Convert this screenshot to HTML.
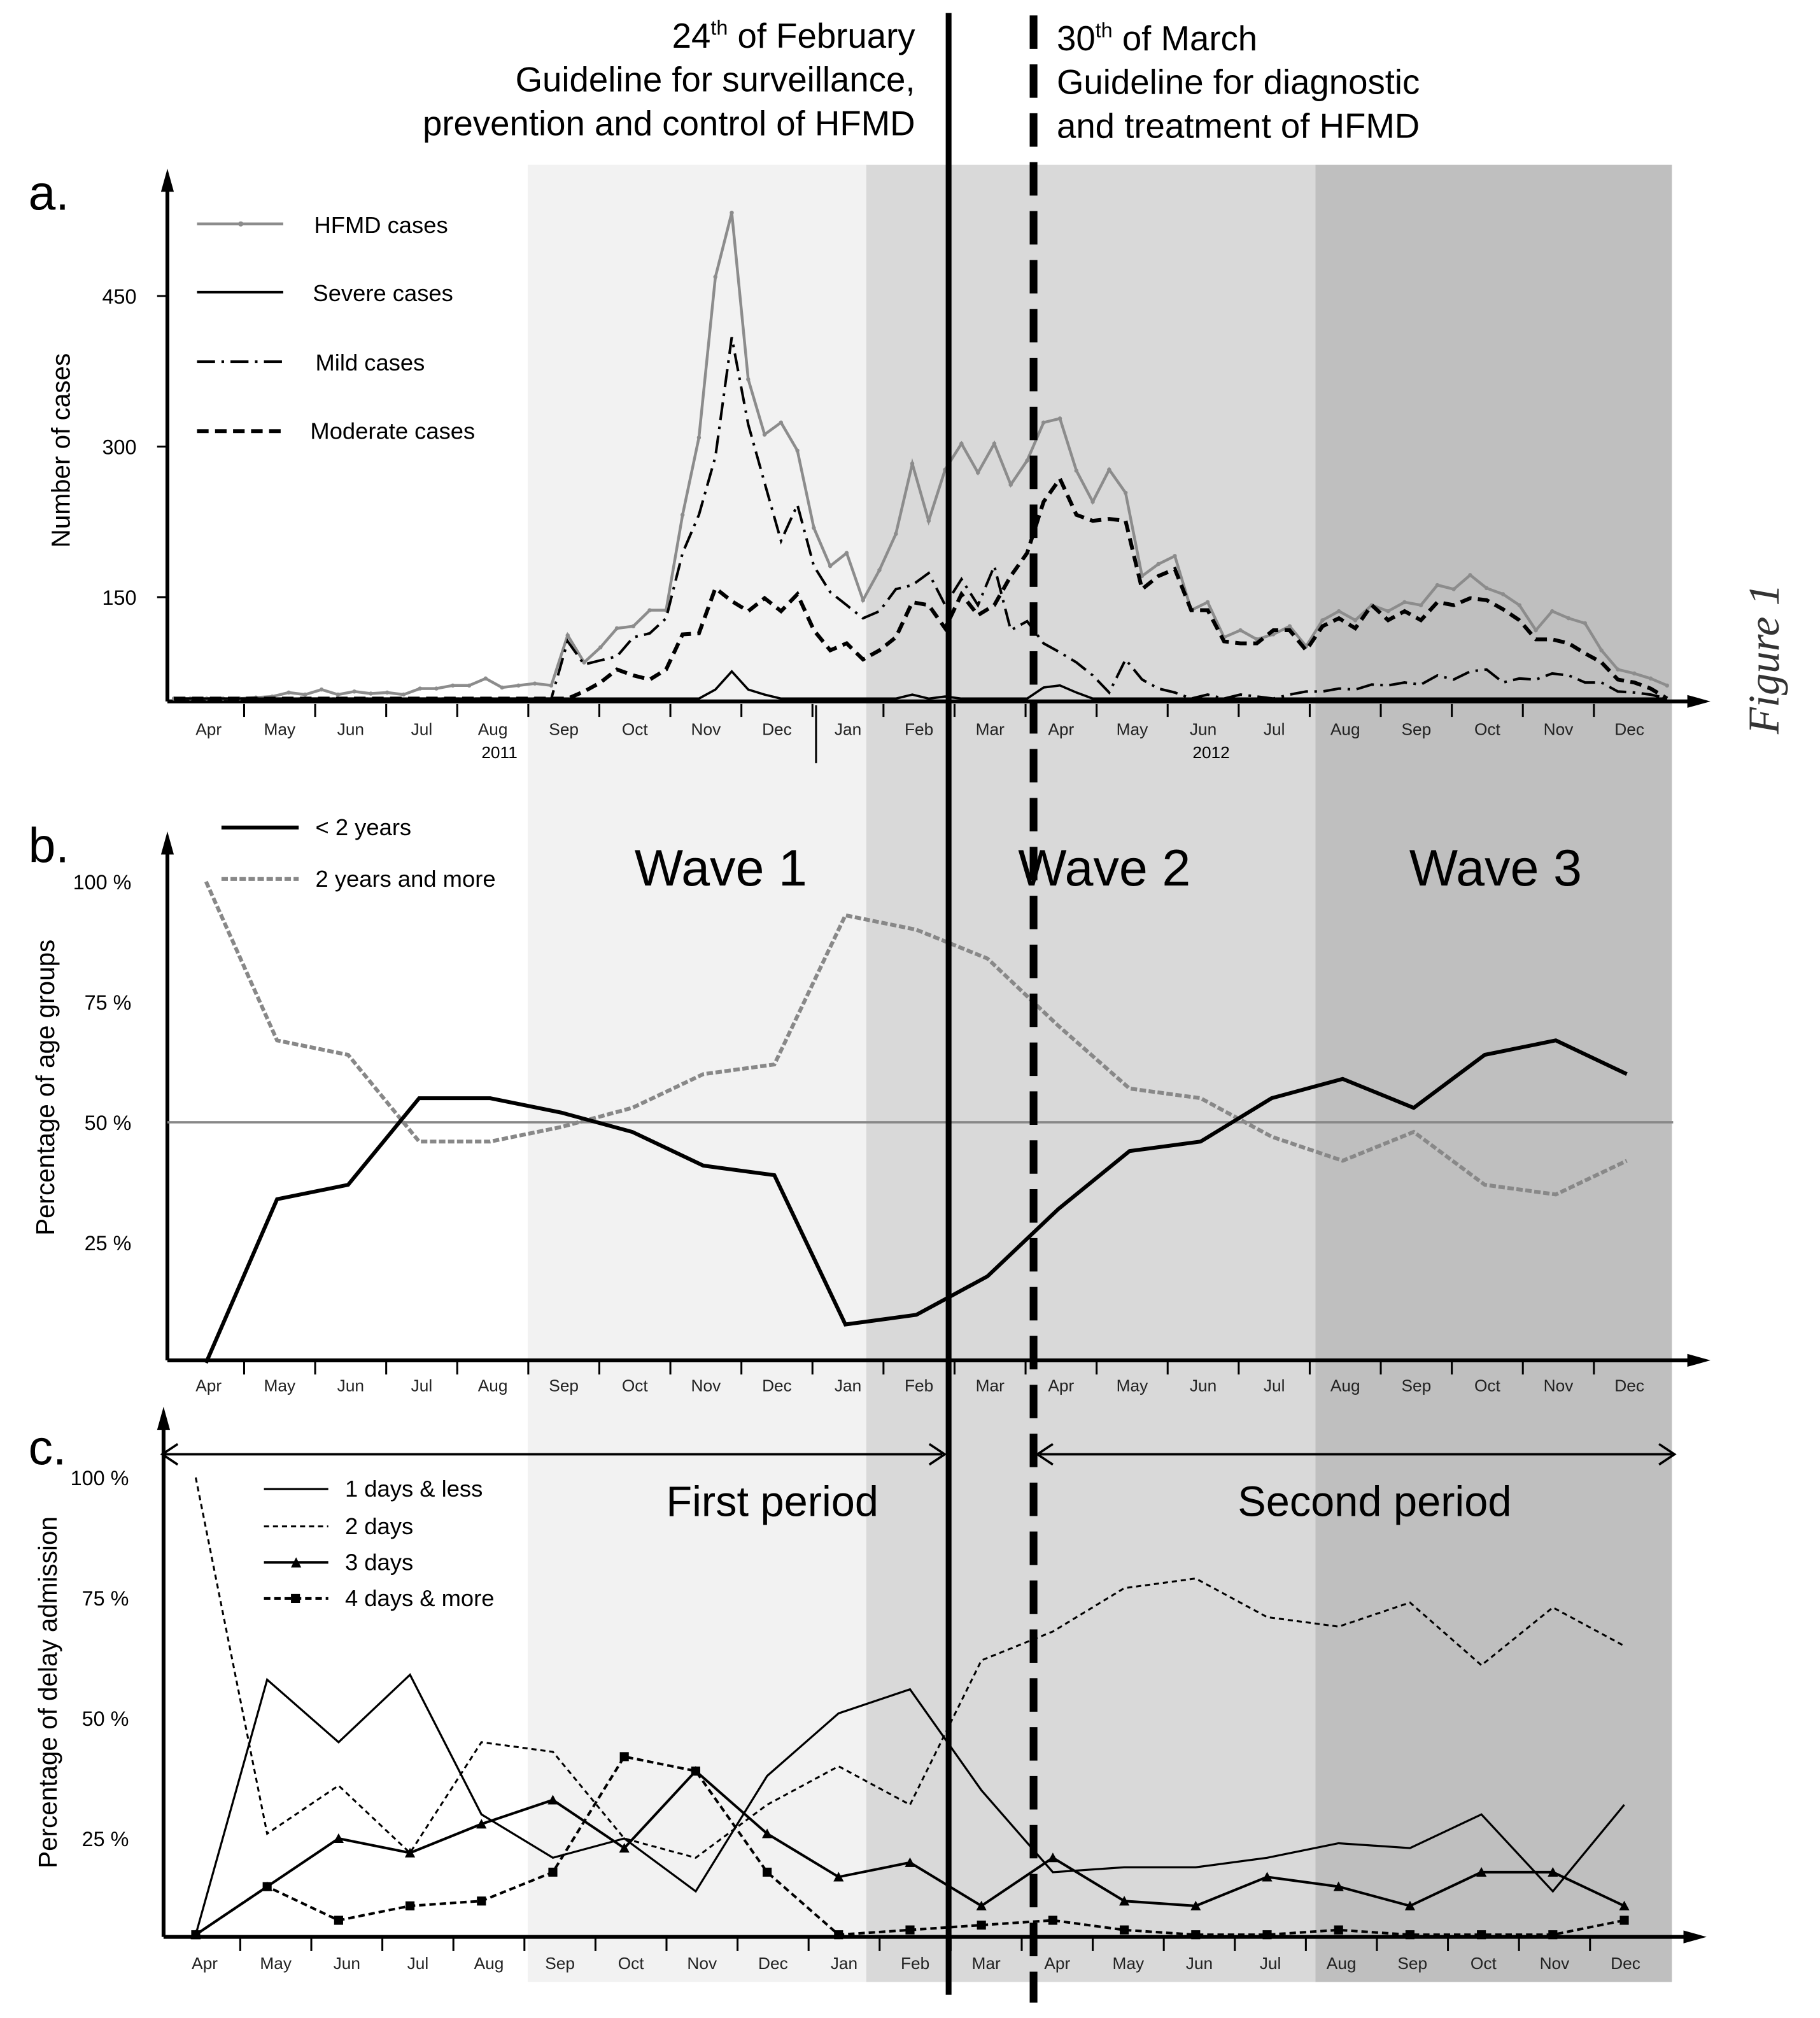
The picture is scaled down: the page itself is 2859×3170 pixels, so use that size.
<!DOCTYPE html>
<html><head><meta charset="utf-8">
<style>
html,body{margin:0;padding:0;background:#fff;}
svg{display:block;font-family:"Liberation Sans",sans-serif;}
</style></head>
<body>
<svg id="fig" width="2859" height="3170" viewBox="0 0 1414 1568" xmlns="http://www.w3.org/2000/svg">
<rect x="0" y="0" width="1414" height="1568" fill="#fff"/>
<g>
<rect x="410" y="128" width="263" height="1412" fill="#f2f2f2"/>
<rect x="673" y="128" width="349" height="1412" fill="#d9d9d9"/>
<rect x="1022" y="128" width="277" height="1412" fill="#bfbfbf"/>
</g>
<g id="marks"></g>
<g font-size="27" fill="#000">
<text x="711" y="37" text-anchor="end">24<tspan font-size="16" dy="-10">th</tspan><tspan dy="10"> of February</tspan></text>
<text x="711" y="71" text-anchor="end">Guideline  for surveillance,</text>
<text x="711" y="105" text-anchor="end">prevention and control of HFMD</text>
<text x="821" y="39">30<tspan font-size="16" dy="-10">th</tspan><tspan dy="10"> of March</tspan></text>
<text x="821" y="73">Guideline  for diagnostic</text>
<text x="821" y="107">and treatment of HFMD</text>
</g>
<line x1="737" y1="10" x2="737" y2="1550" stroke="#000" stroke-width="4.5"/>
<line x1="803" y1="12" x2="803" y2="1556" stroke="#000" stroke-width="6" stroke-dasharray="26,12"/>
<text transform="translate(1382,512) rotate(-90)" text-anchor="middle" font-family="Liberation Serif,serif" font-style="italic" font-size="34" fill="#333">Figure 1</text>
</svg>
<script>
// ---------- Panel a data (weekly) ----------
const hfmd=[49,49,49,49,49,50,51,55,53,58,53,56,54,55,53,59,59,62,62,69,60,62,64,62,112,85,100,119,121,137,137,232,309,469,533,367,312,324,296,219,181,194,147,177,213,283,226,277,303,274,303,262,286,324,328,276,245,277,254,171,183,191,137,145,110,117,108,113,121,101,127,136,127,142,136,145,142,162,158,172,159,153,142,117,136,129,124,97,78,74,69,62];
const moderate=[49,49,49,49,49,49,49,49,49,49,49,49,49,49,49,49,49,49,49,49,49,49,49,49,49,56,65,78,72,68,78,113,114,159,146,136,149,136,153,117,97,104,88,97,110,145,142,119,153,132,142,171,194,245,268,232,226,228,226,158,171,178,137,137,106,104,104,117,117,97,121,129,119,142,127,136,127,145,142,149,147,138,127,108,108,104,94,85,68,65,59,49];
const mild=[49,49,49,49,49,49,49,49,49,49,49,49,49,49,49,49,49,49,49,49,49,49,49,49,106,83,87,91,110,114,129,194,232,290,409,322,264,206,242,181,155,142,129,136,158,162,174,142,168,142,181,117,126,104,95,85,72,55,88,68,59,55,49,53,49,53,51,49,53,56,56,59,58,63,62,65,63,72,68,76,78,65,69,68,74,72,65,65,56,55,53,49];
const severe=[49,49,49,49,49,49,49,49,49,49,49,49,49,49,49,49,49,49,49,49,49,49,49,49,49,49,49,49,49,49,49,49,49,58,76,58,53,49,49,49,49,49,49,49,49,53,49,51,49,49,49,49,49,60,62,55,49,49,49,49,49,49,49,49,49,49,49,49,49,49,49,49,49,49,49,49,49,49,49,49,49,49,49,49,49,49,49,49,49,49,49,49];
const yTicksA=[150,300,450];
const months=["Apr","May","Jun","Jul","Aug","Sep","Oct","Nov","Dec","Jan","Feb","Mar","Apr","May","Jun","Jul","Aug","Sep","Oct","Nov","Dec"];
// ---------- Panel b data (monthly %) ----------
const under2=[0,34,37,55,55,52,48,41,39,8,10,18,32,44,46,55,59,53,64,67,60];
const over2=[100,67,64,46,46,49,53,60,62,93,90,84,70,57,55,47,42,48,37,35,42];
const pctTicks=[25,50,75,100];
// ---------- Panel c data (monthly %) ----------
const day1=[5,58,45,59,30,21,25,14,38,51,56,35,18,19,19,21,24,23,30,14,32];
const day2=[100,26,36,22,45,43,25,21,32,40,32,62,68,77,79,71,69,74,61,73,65];
const day3=[5,15,25,22,28,33,23,39,26,17,20,11,21,12,11,17,15,11,18,18,11];
const day4=[5,15,8,11,12,18,42,39,18,5,6,7,8,6,5,5,6,5,5,5,8];

const NS="http://www.w3.org/2000/svg";
const root=document.getElementById('marks');
function mk(tag,attrs,parent){const e=document.createElementNS(NS,tag);for(const k in attrs)e.setAttribute(k,attrs[k]);(parent||root).appendChild(e);return e;}
function txt(s,attrs,parent){const e=mk('text',attrs,parent);e.textContent=s;return e;}
function pathOf(arr,xf,yf){return arr.map((v,i)=>(i?'L':'M')+xf(i).toFixed(1)+','+yf(v).toFixed(1)).join(' ');}

const xA=i=>135+i*12.75, yA=v=>581-0.78*v;
const xB=i=>160+i*55.2, yB=p=>1059-3.74*p;
const xC=i=>152+i*55.5, yC=p=>1522-3.74*p;
const monthX=(base,i)=>base+i*55.2;

function axes(g,x0,yTop,yBase,xEnd){
  mk('line',{x1:x0,y1:yBase,x2:x0,y2:yTop+10,stroke:'#000','stroke-width':3},g);
  mk('polygon',{points:`${x0-5},${yTop+14} ${x0+5},${yTop+14} ${x0},${yTop-4}`,fill:'#000'},g);
  mk('line',{x1:x0,y1:yBase,x2:xEnd-12,y2:yBase,stroke:'#000','stroke-width':3},g);
  mk('polygon',{points:`${xEnd-14},${yBase-5} ${xEnd-14},${yBase+5} ${xEnd+4},${yBase}`,fill:'#000'},g);
}
function monthLabels(g,base,y,tickY){
  months.forEach((m,i)=>{
    const t=txt(m,{x:monthX(base,i),y:y,'text-anchor':'middle','font-size':13,fill:'#222'},g);
    
    
    if(i>0) mk('line',{x1:monthX(base,i)-27.6,y1:tickY,x2:monthX(base,i)-27.6,y2:tickY+10,stroke:'#000','stroke-width':1.5},g);
  });
}

// ===== Panel a =====
const ga=mk('g',{});


axes(ga,130,135,545,1325);
monthLabels(ga,162,571,547);
txt('2011',{x:388,y:589,'text-anchor':'middle','font-size':13},ga);
txt('2012',{x:941,y:589,'text-anchor':'middle','font-size':13},ga);
mk('line',{x1:634,y1:548,x2:634,y2:593,stroke:'#000','stroke-width':1.5},ga);
yTicksA.forEach(v=>{
  mk('line',{x1:122,y1:yA(v),x2:130,y2:yA(v),stroke:'#000','stroke-width':1.5},ga);
  txt(String(v),{x:106,y:yA(v)+6,'text-anchor':'end','font-size':16},ga);
});
const ta=txt('Number of cases',{transform:'translate(54,350) rotate(-90)','text-anchor':'middle','font-size':20},ga);


txt('a.',{x:22,y:163,'font-size':38},ga);
let s;
s=mk('path',{d:pathOf(hfmd,xA,yA),fill:'none',stroke:'#8c8c8c','stroke-width':2.2},ga);


hfmd.forEach((v,i)=>{const c=mk('circle',{cx:xA(i),cy:yA(v),r:1.6,fill:'#8c8c8c'},ga);

});
s=mk('path',{d:pathOf(mild,xA,yA),fill:'none',stroke:'#000','stroke-width':2,'stroke-dasharray':'14,5,2,5'},ga);


s=mk('path',{d:pathOf(moderate,xA,yA),fill:'none',stroke:'#000','stroke-width':3,'stroke-dasharray':'9,5'},ga);


s=mk('path',{d:pathOf(severe,xA,yA),fill:'none',stroke:'#000','stroke-width':1.8},ga);


const la=mk('g',{},ga);


mk('line',{x1:153,y1:174,x2:220,y2:174,stroke:'#8c8c8c','stroke-width':2.2},la);
mk('circle',{cx:187,cy:174,r:2,fill:'#8c8c8c'},la);
txt('HFMD cases',{x:244,y:181,'font-size':18},la);
mk('line',{x1:153,y1:227,x2:220,y2:227,stroke:'#000','stroke-width':2},la);
txt('Severe cases',{x:243,y:234,'font-size':18},la);
mk('line',{x1:153,y1:281,x2:220,y2:281,stroke:'#000','stroke-width':2,'stroke-dasharray':'14,5,2,5'},la);
txt('Mild cases',{x:245,y:288,'font-size':18},la);
mk('line',{x1:153,y1:335,x2:220,y2:335,stroke:'#000','stroke-width':3,'stroke-dasharray':'9,5'},la);
txt('Moderate cases',{x:241,y:341,'font-size':18},la);

// ===== Panel b =====
const gb=mk('g',{});


axes(gb,130,650,1057,1325);
monthLabels(gb,162,1081,1058);
mk('line',{x1:130,y1:yB(50),x2:1300,y2:yB(50),stroke:'#888','stroke-width':1.8},gb);
pctTicks.forEach(p=>{txt(p+' %',{x:102,y:yB(p)+6,'text-anchor':'end','font-size':16},gb);});
const tb=txt('Percentage of age groups',{transform:'translate(42,845) rotate(-90)','text-anchor':'middle','font-size':20},gb);


txt('b.',{x:22,y:670,'font-size':38},gb);
['Wave 1','Wave 2','Wave 3'].forEach((w,i)=>{const t=txt(w,{x:[560,858,1162][i],y:688,'text-anchor':'middle','font-size':40},gb);

});
s=mk('path',{d:pathOf(over2,xB,yB),fill:'none',stroke:'#888','stroke-width':3,'stroke-dasharray':'5,2'},gb);


s=mk('path',{d:pathOf(under2,xB,yB),fill:'none',stroke:'#000','stroke-width':3},gb);


mk('line',{x1:172,y1:643,x2:232,y2:643,stroke:'#000','stroke-width':3},gb);
txt('< 2 years',{x:245,y:649,'font-size':18},gb);
mk('line',{x1:172,y1:683,x2:232,y2:683,stroke:'#888','stroke-width':3,'stroke-dasharray':'5,2'},gb);
txt('2 years and more',{x:245,y:689,'font-size':18},gb);

// ===== Panel c =====
const gc=mk('g',{});


axes(gc,127,1097,1505,1322);
monthLabels(gc,159,1530,1506);
pctTicks.forEach(p=>{txt(p+' %',{x:100,y:yC(p)+6,'text-anchor':'end','font-size':16},gc);});
const tc=txt('Percentage of delay admission',{transform:'translate(44,1315) rotate(-90)','text-anchor':'middle','font-size':20},gc);


txt('c.',{x:22,y:1138,'font-size':38},gc);
function dArrow(x1,x2,y){
  mk('line',{x1:x1+4,y1:y,x2:x2-4,y2:y,stroke:'#000','stroke-width':1.8},gc);
  mk('polyline',{points:`${x1+14},${y-8} ${x1+2},${y} ${x1+14},${y+8}`,fill:'none',stroke:'#000','stroke-width':1.8},gc);
  mk('polyline',{points:`${x2-14},${y-8} ${x2-2},${y} ${x2-14},${y+8}`,fill:'none',stroke:'#000','stroke-width':1.8},gc);
}
dArrow(124,736,1130); dArrow(804,1303,1130);
txt('First period',{x:600,y:1178,'text-anchor':'middle','font-size':33},gc);
txt('Second period',{x:1068,y:1178,'text-anchor':'middle','font-size':33},gc);
s=mk('path',{d:pathOf(day1,xC,yC),fill:'none',stroke:'#000','stroke-width':1.6},gc);


s=mk('path',{d:pathOf(day2,xC,yC),fill:'none',stroke:'#000','stroke-width':1.5,'stroke-dasharray':'4,3'},gc);


s=mk('path',{d:pathOf(day3,xC,yC),fill:'none',stroke:'#000','stroke-width':2},gc);


day3.forEach((v,i)=>{const x=xC(i),y=yC(v);const t=mk('polygon',{points:`${x-4},${y+3.5} ${x+4},${y+3.5} ${x},${y-4}`,fill:'#000'},gc);

});
s=mk('path',{d:pathOf(day4,xC,yC),fill:'none',stroke:'#000','stroke-width':2,'stroke-dasharray':'5,3'},gc);


day4.forEach((v,i)=>{const r=mk('rect',{x:xC(i)-3.5,y:yC(v)-3.5,width:7,height:7,fill:'#000'},gc);

});
mk('line',{x1:205,y1:1157,x2:255,y2:1157,stroke:'#000','stroke-width':1.6},gc);
txt('1 days & less',{x:268,y:1163,'font-size':18},gc);
mk('line',{x1:205,y1:1186,x2:255,y2:1186,stroke:'#000','stroke-width':1.5,'stroke-dasharray':'4,3'},gc);
txt('2 days',{x:268,y:1192,'font-size':18},gc);
mk('line',{x1:205,y1:1214,x2:255,y2:1214,stroke:'#000','stroke-width':2},gc);
mk('polygon',{points:'226,1218 234,1218 230,1210',fill:'#000'},gc);
txt('3 days',{x:268,y:1220,'font-size':18},gc);
mk('line',{x1:205,y1:1242,x2:255,y2:1242,stroke:'#000','stroke-width':2,'stroke-dasharray':'5,3'},gc);
mk('rect',{x:226,y:1238.5,width:7,height:7,fill:'#000'},gc);
txt('4 days & more',{x:268,y:1248,'font-size':18},gc);
</script>
</body></html>
